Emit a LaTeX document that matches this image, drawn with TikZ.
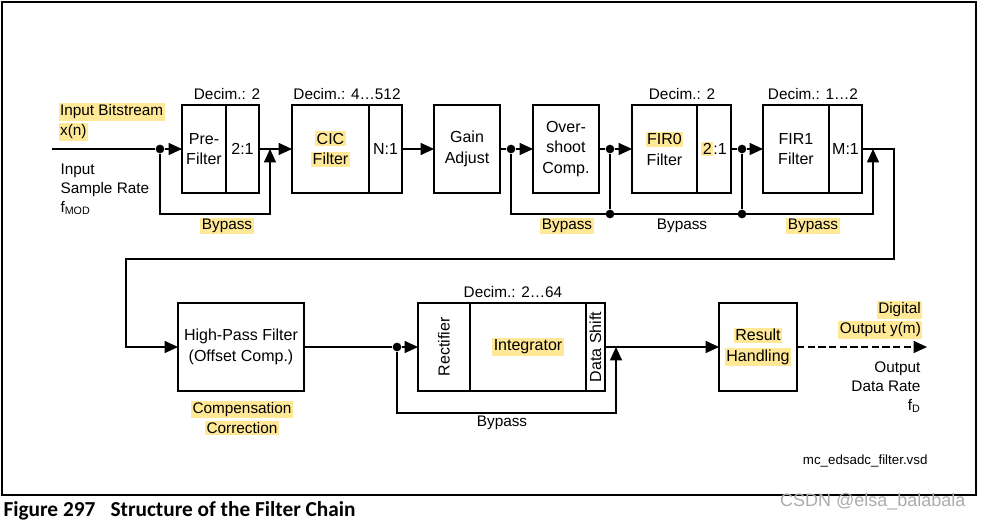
\documentclass[tikz,border=0pt]{standalone}
\usepackage{fontspec}
\setmainfont{Liberation Sans}
\newfontfamily\capfont{Carlito}
\usepackage{graphicx}
\usetikzlibrary{positioning,arrows.meta}
\definecolor{hlyellow}{RGB}{255,232,150}
\newcommand\hlt[1]{{\setlength\fboxsep{1.2pt}\colorbox{hlyellow}{#1}}}

\begin{document}
\begin{tikzpicture}[x=0.75pt,y=-0.75pt,line width=0.8pt,
	box/.style={draw,inner sep=0pt,outer sep=0pt,minimum height=66pt,minimum width=#1*0.75pt,align=center,font=\fontsize{12}{15.5}\selectfont},
	lbl/.style={inner sep=0pt,font=\fontsize{11.5}{14.25}\selectfont},
	arr/.style={-{Triangle[length=10pt,width=9pt]}},
	dot/.style={circle,fill,inner sep=0pt,minimum size=6.5pt}]
		
		\useasboundingbox (0,0) rectangle (981,520);
		\draw[line width=1.5pt] (2,2) rectangle (976,495);
		
		% upper chain
		\node[box=44] (pre) at (204,149) {Pre-\\Filter};
		\node[box=33,right=0pt of pre] (pred) {2:1};
		\node[box=77] (cic) at (330.5,149) {\hlt{CIC}\\\hlt{Filter}};
		\node[box=33,right=0pt of cic] (cicd) {N:1};
		\node[box=66] (gain) at (467,149) {Gain\\Adjust};
		\node[box=66] (over) at (566,149) {Over-\\shoot\\Comp.};
		\node[box=65] (fir0) at (664.5,149) {\hlt{FIR0}\\Filter};
		\node[box=34,right=0pt of fir0] (fir0d) {\hlt{2}:1};
		\node[box=66] (fir1) at (796,149) {FIR1\\Filter};
		\node[box=33,right=0pt of fir1] (fir1d) {M:1};
		
		% lower chain
		\node[box=126] (hp) at (241,347) {High-Pass Filter\\(Offset Comp.)};
		\node[box=52] (rect) at (444,347) {\rotatebox{90}{Rectifier}};
		\node[box=116,right=0pt of rect] (integ) {\hlt{Integrator}};
		\node[box=19,right=0pt of integ] (shift) {\rotatebox{90}{Data Shift}};
		\node[box=78] (res) at (758,347) {\hlt{Result}\\\hlt{Handling}};
		
		% junctions
		\coordinate (in) at (52,149);
		\node[dot] (d1) at (160,149) {};
		\node[dot] (d2) at (511,149) {};
		\node[dot] (d3) at (610,149) {};
		\node[dot] (d4) at (742,149) {};
		\node[dot] (d3b) at (610,214) {};
		\node[dot] (d4b) at (742,214) {};
		\node[dot] (d5) at (397,347) {};
		\coordinate (j1) at (270,149);
		\coordinate (j2) at (873,149);
		\coordinate (j3) at (616,347);
		\coordinate (c1) at (894,259);
		\coordinate (c2) at (126,259);
		\coordinate (out) at (927,347);
		
		% connectors
		\draw (in) -- (d1);
		\draw[arr] (d1) -- (pre.west);
		\draw[arr] (d1) -- ++(0,65) -| (j1);
		\draw[arr] (pred.east) -- (cic.west);
		\draw[arr] (cicd.east) -- (gain.west);
		\draw (gain.east) -- (d2);
		\draw[arr] (d2) -- (over.west);
		\draw (over.east) -- (d3);
		\draw[arr] (d3) -- (fir0.west);
		\draw (fir0d.east) -- (d4);
		\draw[arr] (d4) -- (fir1.west);
		\draw[arr] (d2) -- ++(0,65) -| (j2);
		\draw (d3) -- (d3b);
		\draw (d4) -- (d4b);
		\draw[arr] (fir1d.east) -| (c1) -- (c2) |- (hp.west);
		\draw (hp.east) -- (d5);
		\draw[arr] (d5) -- (rect.west);
		\draw[arr] (d5) -- ++(0,66) -| (j3);
		\draw[arr] (shift.east) -- (res.west);
		\draw[arr,dash pattern=on 5.5pt off 2.5pt] (res.east) -- (out);
		
		% notations
		\node[lbl] (dec1) at (227,94) {Decim.: 2};
		\node[lbl] (dec2) at (347,94) {Decim.: 4…512};
		\node[lbl] (dec3) at (682,94) {Decim.: 2};
		\node[lbl] (dec4) at (813,94) {Decim.: 1…2};
		\node[lbl] (dec5) at (513,292) {Decim.: 2…64};
		\node[lbl] (by1) at (227,226) {\hlt{Bypass}};
		\node[lbl] (by2) at (567,226) {\hlt{Bypass}};
		\node[lbl] (by3) at (682,226) {Bypass};
		\node[lbl] (by4) at (813,226) {\hlt{Bypass}};
		\node[lbl] (by5) at (502,423) {Bypass};
		\node[lbl,anchor=west,align=left,font=\fontsize{11.5}{15}\selectfont] (bits) at (58,122) {\hlt{Input Bitstream}\\\hlt{x(n)}};
		\node[lbl,anchor=west,align=left] (rate) at (60,189) {Input\\Sample Rate\\f\textsubscript{MOD}};
		\node[lbl,anchor=east,align=right,font=\fontsize{11.5}{15}\selectfont] (dig) at (923,320) {\hlt{Digital}\\\hlt{Output y(m)}};
		\node[lbl,anchor=east,align=right] (orate) at (921,387) {Output\\Data Rate\\f\textsubscript{D}};
		\node[lbl,align=center,font=\fontsize{11.5}{15}\selectfont] (comp) at (242,418) {\hlt{Compensation}\\\hlt{Correction}};
		\node[inner sep=0pt,anchor=east,font=\fontsize{10}{12}\selectfont] (vsd) at (928,461) {mc\_edsadc\_filter.vsd};
		\node[inner sep=0pt,anchor=east,text=gray!65,font=\fontsize{13.5}{16}\selectfont] (wm) at (966,502) {CSDN @elsa\_balabala};
		
		% caption
		\node[inner sep=0pt,anchor=base west,font=\capfont\bfseries\fontsize{16}{18}\selectfont] (fig) at (3,516) {Figure 297};
		\node[inner sep=0pt,anchor=base west,font=\capfont\bfseries\fontsize{16}{18}\selectfont] (title) at (110,516) {Structure of the Filter Chain};
	\end{tikzpicture}
\end{document}
